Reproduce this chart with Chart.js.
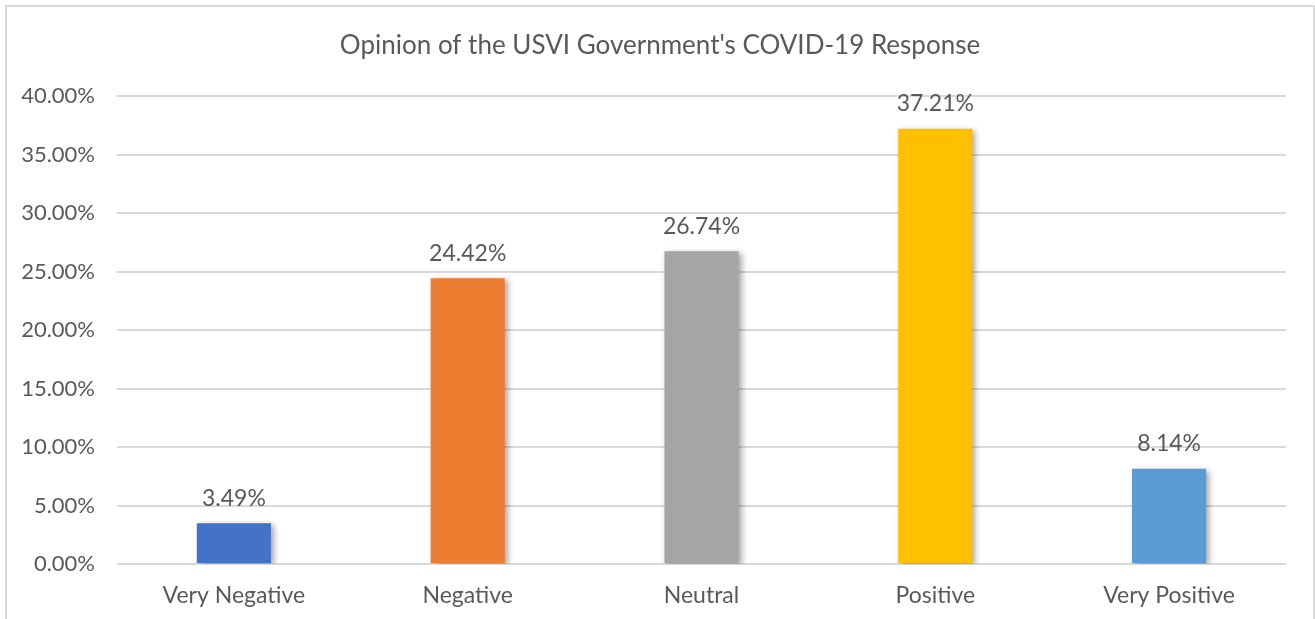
<!DOCTYPE html>
<html>
<head>
<meta charset="utf-8">
<script src="https://cdn.jsdelivr.net/npm/chart.js@4"></script>
<style>
  body { margin: 0; background: #fff; overflow: hidden; }
  #box { position: absolute; left: 5px; top: 5px; width: 1306px; height: 640px; border: 2px solid #d9d9d9; }
</style>
</head>
<body>
<div id="box"><canvas id="chart" width="1306" height="620"></canvas></div>
<script>
var categories = ["Very Negative", "Negative", "Neutral", "Positive", "Very Positive"];
var shares = [3.49, 24.42, 26.74, 37.21, 8.14];
var barColors = ["#4472C4", "#ED7D31", "#A5A5A5", "#FFC000", "#5B9BD5"];
var chartTitle = "Opinion of the USVI Government's COVID-19 Response";

var textColor = "#595959";
var fontName = "Lato, sans-serif";

// soft drop shadow under the bars + value labels on top
var barDecor = {
    id: "barDecor",
    beforeDatasetsDraw: function(chart) {
        var ctx = chart.ctx;
        ctx.save();
        ctx.shadowColor = "rgba(0,0,0,0.35)";
        ctx.shadowBlur = 6;
        ctx.shadowOffsetX = 3;
        ctx.shadowOffsetY = 2;
    },
    afterDatasetsDraw: function(chart) {
        var ctx = chart.ctx;
        ctx.restore();
        ctx.save();
        ctx.font = "23px " + fontName;
        ctx.fillStyle = textColor;
        ctx.textAlign = "center";
        ctx.textBaseline = "middle";
        chart.getDatasetMeta(0).data.forEach(function(bar, i) {
            ctx.fillText(shares[i].toFixed(2) + "%", bar.x, bar.y - 25);
        });
        ctx.restore();
    }
};

// title centred on the whole canvas, not on the padded layout box
var centredTitle = {
    id: "centredTitle",
    afterDraw: function(chart) {
        var ctx = chart.ctx;
        ctx.save();
        ctx.font = "26px " + fontName;
        ctx.fillStyle = textColor;
        ctx.textAlign = "center";
        ctx.textBaseline = "middle";
        ctx.fillText(chartTitle, chart.width / 2, 39);
        ctx.restore();
    }
};

var chart = new Chart(document.getElementById("chart"), {
    type: "bar",
    data: {
        labels: categories,
        datasets: [{
            data: shares,
            backgroundColor: barColors,
            borderWidth: 0,
            categoryPercentage: 1,
            barPercentage: 0.317,
        }],
    },
    options: {
        responsive: false,
        animation: false,
        layout: { padding: { top: 89, right: 27, bottom: 0, left: 0 } },
        plugins: {
            legend: { display: false },
            tooltip: { enabled: false },
            title: { display: false },
        },
        scales: {
            x: {
                grid: { display: false },
                border: { display: false },
                ticks: { color: textColor, font: { family: fontName, size: 23 }, padding: 10 },
                afterFit: function(scale) { scale.height = 63; },
            },
            y: {
                min: 0,
                max: 40,
                grid: { color: "#d9d9d9", lineWidth: 2, drawTicks: false },
                border: { display: false },
                ticks: {
                    stepSize: 5,
                    color: textColor,
                    font: { family: fontName, size: 22 },
                    padding: 22,
                    callback: function(v) { return v.toFixed(2) + "%"; },
                },
                afterFit: function(scale) { scale.width = 110; },
            },
        },
    },
    plugins: [barDecor, centredTitle],
});
</script>
</body>
</html>
